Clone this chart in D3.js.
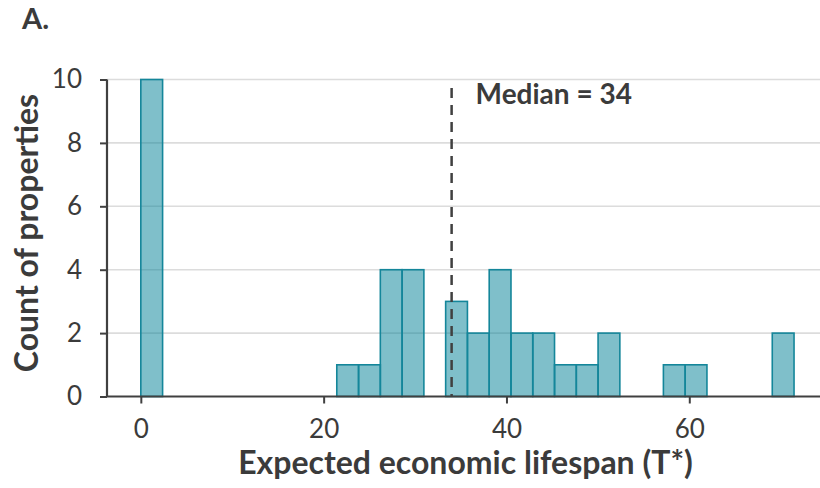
<!DOCTYPE html>
<html>
<head>
<meta charset="utf-8">
<script src="https://cdn.jsdelivr.net/npm/d3@7"></script>
<style>
  html, body { margin: 0; padding: 0; background: #fff; }
  svg text { font-family: Lato, "Source Sans Pro", sans-serif; fill: #3b3b3b; }
</style>
</head>
<body>
<svg id="chart" width="820" height="488"></svg>
<script>
// Histogram of expected economic lifespan: 30 equal-width bins starting at 0
const binStart = 0;
const binWidth = 2.382;
const binCounts = [10, 0, 0, 0, 0, 0, 0, 0, 0, 1,
                   1, 4, 4, 0, 3, 2, 4, 2, 2, 1,
                   1, 2, 0, 0, 1, 1, 0, 0, 0, 2];
const medianValue = 34;
const xTicks = [0, 20, 40, 60];
const yTicks = [0, 2, 4, 6, 8, 10];
const panelLabel = "A.";
const xTitle = "Expected economic lifespan (T*)";
const yTitle = "Count of properties";

const bins = binCounts.map((c, i) => ({
  x0: binStart + i * binWidth,
  x1: binStart + (i + 1) * binWidth,
  count: c
}));

const svg = d3.select("#chart");
const plotLeft = 107, plotRight = 820, plotTop = 79.5, plotBottom = 396.5;

const x = d3.scaleLinear().domain([-3.7, 74.3]).range([plotLeft, plotRight]);
const y = d3.scaleLinear().domain([0, 10]).range([plotBottom, plotTop]);

// horizontal grid
svg.append("g")
  .selectAll("line")
  .data(yTicks.filter(d => d > 0))
  .join("line")
  .attr("x1", plotLeft).attr("x2", plotRight)
  .attr("y1", d => y(d)).attr("y2", d => y(d))
  .attr("stroke", "#dcdcdc")
  .attr("stroke-width", 1.6);

// bars
svg.append("g")
  .selectAll("rect")
  .data(bins.filter(b => b.count > 0))
  .join("rect")
  .attr("x", b => x(b.x0))
  .attr("width", b => x(b.x1) - x(b.x0))
  .attr("y", b => y(b.count))
  .attr("height", b => y(0) - y(b.count))
  .attr("fill", "rgba(0, 128, 150, 0.5)")
  .attr("stroke", "#14869a")
  .attr("stroke-width", 1.6);

// median marker
svg.append("line")
  .attr("x1", x(medianValue)).attr("x2", x(medianValue))
  .attr("y1", 88).attr("y2", plotBottom)
  .attr("stroke", "#404040")
  .attr("stroke-width", 2.5)
  .attr("stroke-dasharray", "10,7");

svg.append("text")
  .attr("x", x(medianValue) + 24)
  .attr("y", 104)
  .attr("font-size", 28)
  .attr("font-weight", 700)
  .text("Median = " + medianValue);

// axes
const xAxis = svg.append("g")
  .attr("transform", `translate(0,${plotBottom})`)
  .call(d3.axisBottom(x).tickValues(xTicks).tickSize(7).tickPadding(16).tickFormat(d3.format("d")));
const yAxis = svg.append("g")
  .attr("transform", `translate(${plotLeft},0)`)
  .call(d3.axisLeft(y).tickValues(yTicks).tickSize(7).tickPadding(18).tickFormat(d3.format("d")));

[xAxis, yAxis].forEach(g => {
  g.select(".domain").attr("stroke", "#404040").attr("stroke-width", 2.2);
  g.selectAll(".tick line").attr("stroke", "#404040").attr("stroke-width", 2);
  g.selectAll(".tick text").attr("font-size", 26).attr("fill", "#3b3b3b")
    .style("font-family", "Lato, sans-serif");
});
xAxis.select(".domain").attr("d", `M${plotLeft},0H${plotRight}`);
yAxis.select(".domain").attr("d", `M0,${plotTop}V${plotBottom}`);

// titles
svg.append("text")
  .attr("x", (238 + 693) / 2)
  .attr("y", 474)
  .attr("text-anchor", "middle")
  .attr("font-size", 32)
  .attr("font-weight", 700)
  .text(xTitle);

svg.append("text")
  .attr("transform", "translate(38,233) rotate(-90)")
  .attr("text-anchor", "middle")
  .attr("font-size", 32)
  .attr("font-weight", 700)
  .text(yTitle);

svg.append("text")
  .attr("x", 22)
  .attr("y", 29)
  .attr("font-size", 29)
  .attr("font-weight", 700)
  .text(panelLabel);
</script>
</body>
</html>
